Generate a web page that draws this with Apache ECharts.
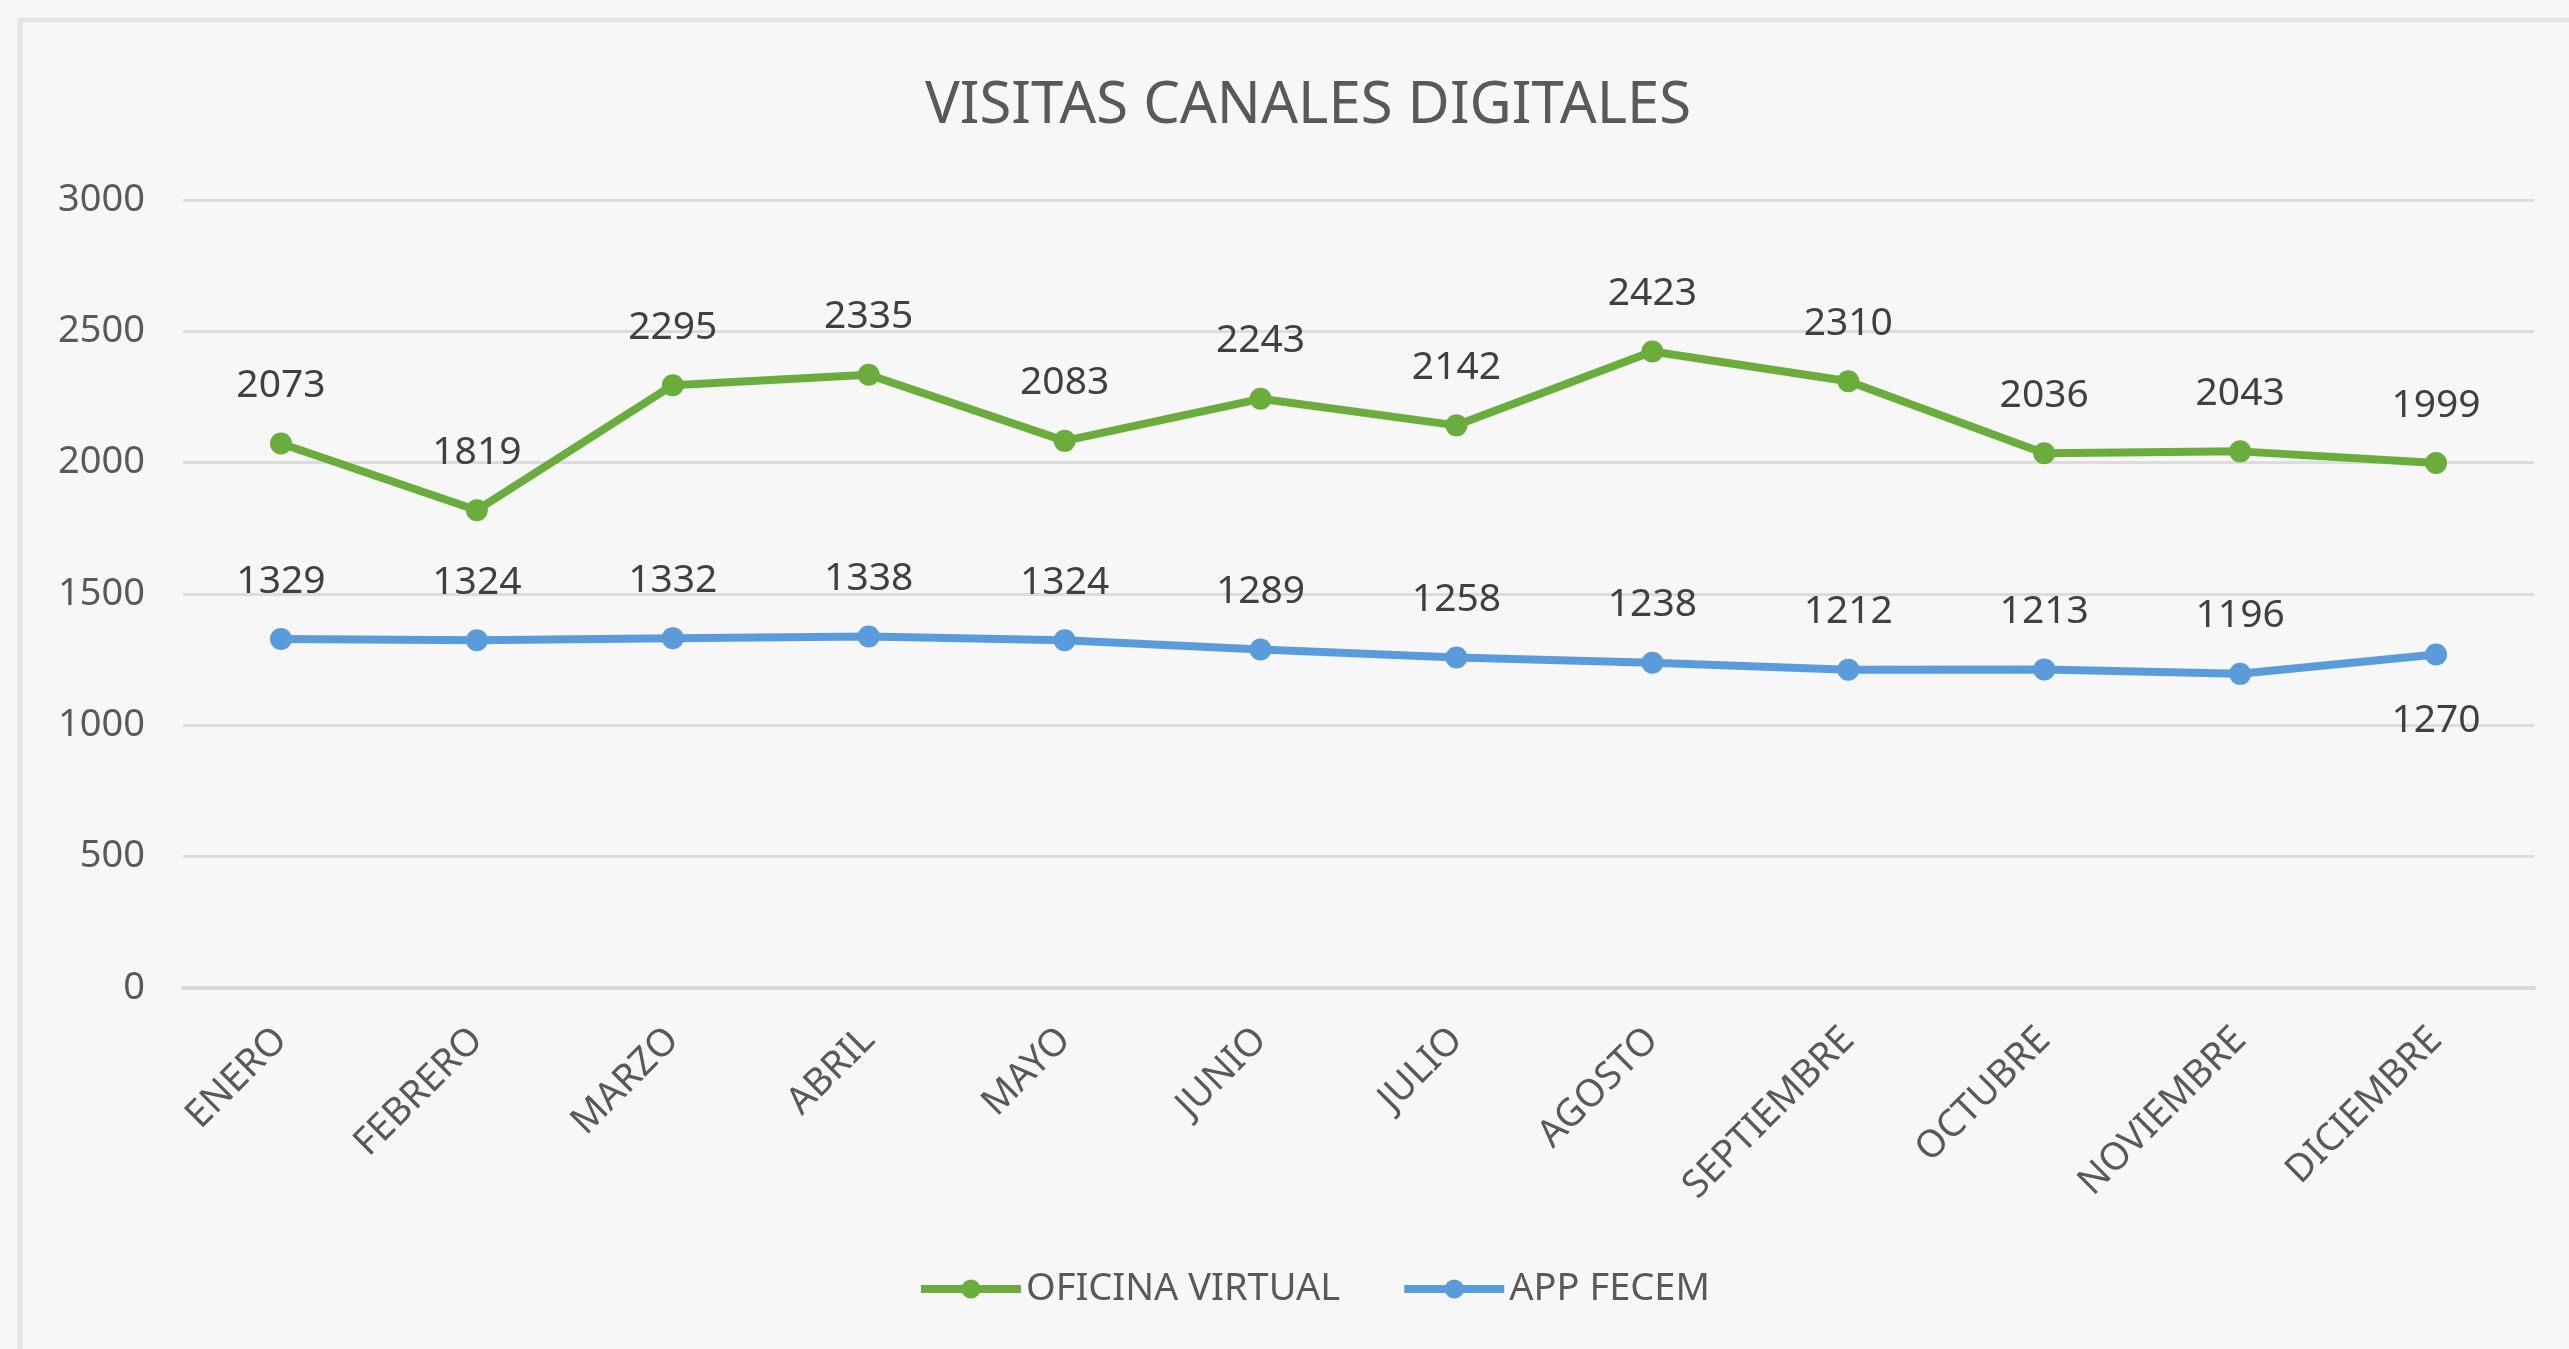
<!DOCTYPE html>
<html>
<head>
<meta charset="utf-8">
<script src="https://cdn.jsdelivr.net/npm/echarts@6/dist/echarts.min.js"></script>
<style>
html, body { margin: 0; padding: 0; background: #f7f7f7; }
#chart { width: 2569px; height: 1349px; }
</style>
</head>
<body>
<div id="chart"></div>
<script>
// datos
var meses = ['ENERO', 'FEBRERO', 'MARZO', 'ABRIL', 'MAYO', 'JUNIO', 'JULIO', 'AGOSTO', 'SEPTIEMBRE', 'OCTUBRE', 'NOVIEMBRE', 'DICIEMBRE']
var oficinaVirtual = [2073, 1819, 2295, 2335, 2083, 2243, 2142, 2423, 2310, 2036, 2043, 1999]
var appFecem = [1329, 1324, 1332, 1338, 1324, 1289, 1258, 1238, 1212, 1213, 1196, 1270]
var nombres = ['OFICINA VIRTUAL', 'APP FECEM']

var verde = '#6aad3d'
var azul = '#5a9bdb'
var texto = '#595959'
var fuente = 'Noto Sans'

// la etiqueta de diciembre en APP va debajo del punto
var appData = appFecem.map(function (v, i) {
  if (i === appFecem.length - 1) {
    return { value: v, label: { position: 'bottom', distance: 36 } }
  }
  return v
})

var chart = echarts.init(document.getElementById('chart'))
chart.setOption({
  backgroundColor: '#f7f7f7',
  textStyle: { fontFamily: fuente },
  graphic: [{
    type: 'rect',
    shape: { x: 20, y: 20, width: 2600, height: 1400 },
    style: { fill: 'none', stroke: '#e4e4e4', lineWidth: 5 },
    silent: true
  }],
  title: {
    text: 'VISITAS CANALES DIGITALES',
    left: 920,
    top: 72,
    textStyle: { fontFamily: fuente, fontSize: 58, fontWeight: 'normal', color: texto }
  },
  legend: {
    data: nombres,
    bottom: 36,
    left: 912,
    itemWidth: 100,
    itemHeight: 24,
    itemGap: 60,
    lineStyle: { width: 8 },
    textStyle: { fontFamily: fuente, fontSize: 38, color: texto }
  },
  grid: { left: 183, right: 35, top: 200, bottom: 361, containLabel: false },
  xAxis: {
    type: 'category',
    data: meses,
    boundaryGap: true,
    axisLine: { lineStyle: { color: '#d9d9d9', width: 4 } },
    axisTick: { show: false },
    axisLabel: { rotate: 45, fontSize: 38, color: texto, margin: 46, interval: 0, fontFamily: fuente }
  },
  yAxis: {
    type: 'value',
    min: 0,
    max: 3000,
    interval: 500,
    axisLine: { show: false },
    axisTick: { show: false },
    axisLabel: { fontSize: 38, color: texto, margin: 38, fontFamily: fuente, formatter: function (v) { return String(v) } },
    splitLine: { lineStyle: { color: '#dcdcdc', width: 3 } }
  },
  series: [
    {
      name: nombres[0],
      type: 'line',
      data: oficinaVirtual,
      symbol: 'circle',
      symbolSize: 22,
      itemStyle: { color: verde },
      lineStyle: { color: verde, width: 8 },
      label: { show: true, position: 'top', distance: 27, fontSize: 39, color: '#404040', fontFamily: fuente }
    },
    {
      name: nombres[1],
      type: 'line',
      data: appData,
      symbol: 'circle',
      symbolSize: 22,
      itemStyle: { color: azul },
      lineStyle: { color: azul, width: 8 },
      label: { show: true, position: 'top', distance: 27, fontSize: 39, color: '#404040', fontFamily: fuente }
    }
  ]
})
</script>
</body>
</html>
